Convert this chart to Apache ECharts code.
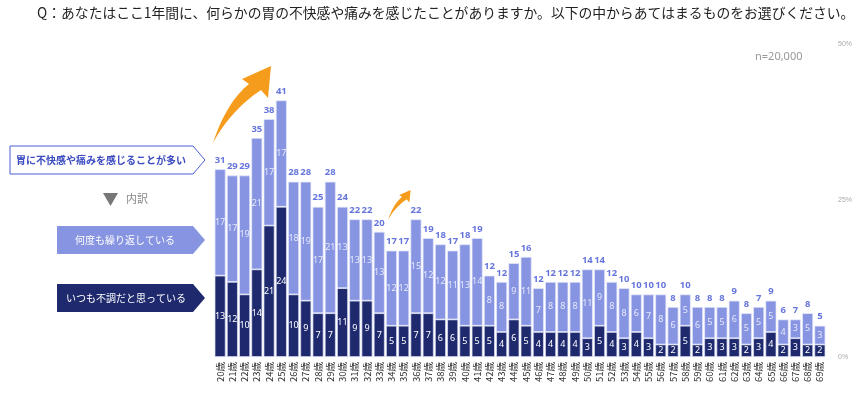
<!DOCTYPE html>
<html>
<head>
<meta charset="utf-8">
<script src="https://cdn.jsdelivr.net/npm/echarts@6/dist/echarts.min.js"></script>
<style>
html,body{margin:0;padding:0;background:#fff;}
#c{width:868px;height:395px;}
</style>
</head>
<body>
<div id="c"></div>
<script>
const ages = [];
for (let a = 20; a <= 69; a++) ages.push(a + '歳');
const always = [13,12,10,14,21,24,10,9,7,7,11,9,9,7,5,5,7,7,6,6,5,5,5,4,6,5,4,4,4,4,3,5,4,3,4,3,2,2,5,2,3,3,3,2,3,4,2,3,2,2];
const repeated = [17,17,19,21,17,17,18,19,17,21,13,13,13,13,12,12,15,12,12,11,13,14,8,8,9,11,7,8,8,8,11,9,8,8,6,7,8,6,5,6,5,5,6,5,5,5,4,3,5,3];
const totals = [31,29,29,35,38,41,28,28,25,28,24,22,22,20,17,17,22,19,18,17,18,19,12,12,15,16,12,12,12,12,14,14,12,10,10,10,10,8,10,8,8,8,9,8,7,9,6,7,8,5];
const yTicks = ['0%','25%','50%'];

const DARK = '#1f2a6e';
const LIGHT = '#8794e2';
const BLUE = '#3f52d2';
const ORANGE = '#f59c1c';

// curved arrow outline as polygon (local coordinates, tail at 0,0)
function bez(p0, p1, p2, p3, n) {
  const out = [];
  for (let i = 0; i <= n; i++) {
    const t = i / n, u = 1 - t;
    out.push([
      u*u*u*p0[0] + 3*u*u*t*p1[0] + 3*u*t*t*p2[0] + t*t*t*p3[0],
      u*u*u*p0[1] + 3*u*u*t*p1[1] + 3*u*t*t*p2[1] + t*t*t*p3[1]
    ]);
  }
  return out;
}
function arrowPoints(ox, oy, s) {
  const pts = []
    .concat(bez([0,0],[9,-28],[22,-48],[36,-59],16))
    .concat([[29,-64],[58,-77],[55,-45],[48,-53]])
    .concat(bez([48,-53],[31,-42],[12,-23],[0,0],16).slice(1));
  return pts.map(p => [ox + p[0]*s, oy + p[1]*s]);
}

const chart = echarts.init(document.getElementById('c'));
chart.setOption({
  animation: false,
  grid: { left: 214, right: 42, top: 44, bottom: 38 },
  xAxis: {
    type: 'category',
    data: ages,
    axisLine: { show: false },
    axisTick: { show: false },
    axisLabel: { interval: 0, rotate: 90, fontSize: 9.5, color: '#333', margin: 5, fontFamily: 'Noto Sans CJK JP' }
  },
  yAxis: {
    type: 'value',
    position: 'right',
    min: 0, max: 50, interval: 25,
    splitLine: { show: false },
    axisLine: { show: false },
    axisTick: { show: false },
    axisLabel: {
      fontSize: 7, color: '#aaa', margin: 12,
      formatter: (v) => yTicks[Math.round(v / 25)]
    }
  },
  series: [
    {
      type: 'bar', stack: 's', data: always, barCategoryGap: '10%',
      itemStyle: { color: DARK, borderColor: 'rgba(220,225,245,0.9)', borderWidth: 0.8 },
      label: { show: true, position: 'inside', color: '#fff', fontSize: 9, fontFamily: 'Noto Sans' }
    },
    {
      type: 'bar', stack: 's', data: repeated,
      itemStyle: { color: LIGHT, borderColor: 'rgba(230,233,250,0.9)', borderWidth: 0.8 },
      label: { show: true, position: 'inside', color: '#e6e9fa', fontSize: 9, fontFamily: 'Noto Sans' }
    },
    {
      type: 'scatter',
      data: always.map((d, i) => [i, d + repeated[i]]),
      symbolSize: 0,
      silent: true,
      label: {
        show: true, position: 'top', distance: 4,
        color: BLUE, fontSize: 9.5, fontWeight: 'bold', fontFamily: 'Noto Sans',
        formatter: (p) => String(totals[p.dataIndex])
      }
    }
  ],
  graphic: [
    { type: 'text', x: 37, y: 6, style: { text: 'Q：あなたはここ1年間に、何らかの胃の不快感や痛みを感じたことがありますか。以下の中からあてはまるものをお選びください。', fontSize: 13.8, fill: '#222', fontFamily: 'Noto Sans CJK JP' } },
    { type: 'text', x: 755, y: 51, style: { text: 'n=20,000', fontSize: 11, fill: '#999', fontFamily: 'Noto Sans' } },
    { type: 'polygon', shape: { points: [[10,146],[193,146],[205,160],[193,174],[10,174]] }, style: { fill: '#fff', stroke: '#4a5bd4', lineWidth: 1 } },
    { type: 'text', x: 101, y: 160, style: { text: '胃に不快感や痛みを感じることが多い', fontSize: 10, fontWeight: 'bold', fill: '#3b4cc0', align: 'center', verticalAlign: 'middle', fontFamily: 'Noto Sans CJK JP' } },
    { type: 'polygon', shape: { points: [[103,193],[118,193],[110.5,206]] }, style: { fill: '#777' } },
    { type: 'text', x: 126, y: 199, style: { text: '内訳', fontSize: 11, fill: '#888', verticalAlign: 'middle', fontFamily: 'Noto Sans CJK JP' } },
    { type: 'polygon', shape: { points: [[57,226],[193,226],[205,240],[193,254],[57,254]] }, style: { fill: LIGHT } },
    { type: 'text', x: 125, y: 240, style: { text: '何度も繰り返している', fontSize: 10, fill: '#fff', align: 'center', verticalAlign: 'middle', fontFamily: 'Noto Sans CJK JP' } },
    { type: 'polygon', shape: { points: [[57,284],[193,284],[205,298],[193,312],[57,312]] }, style: { fill: DARK } },
    { type: 'text', x: 126, y: 298, style: { text: 'いつも不調だと思っている', fontSize: 10, fill: '#fff', align: 'center', verticalAlign: 'middle', fontFamily: 'Noto Sans CJK JP' } },
    { type: 'polygon', shape: { points: arrowPoints(213, 143, 1) }, style: { fill: ORANGE } },
    { type: 'polygon', shape: { points: arrowPoints(388, 220, 0.39) }, style: { fill: ORANGE } }
  ]
});
</script>
</body>
</html>
